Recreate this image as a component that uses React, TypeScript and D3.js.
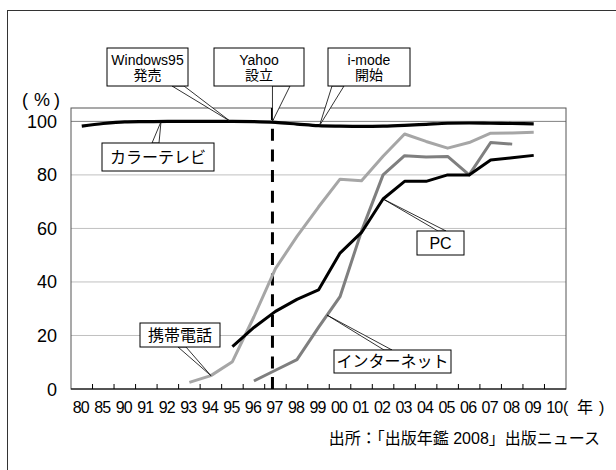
import React from "react";
import * as d3 from "d3";

// years on the category axis
const years = ["80","85","90","91","92","93","94","95","96","97","98","99","00","01","02","03","04","05","06","07","08","09","10"];
const yTicks = [0, 20, 40, 60, 80, 100];

// 普及率 (%), null = no data
const colorTv = [98.2,99.2,99.8,99.9,100,100,100,100,99.9,99.6,99.0,98.4,98.2,98.1,98.2,98.5,98.9,99.3,99.4,99.3,99.2,99.1,null];
const mobile = [null,null,null,null,null,2.5,5,10.2,27,45,57,68,78.4,77.8,87,95.3,92.5,90,92.1,95.6,95.7,95.9,null];
const internet = [null,null,null,null,null,null,null,null,3,7,11,23,34.5,59,80,87.2,86.7,86.9,80,92.1,91.5,null,null];
const pc = [null,null,null,null,null,null,null,15.8,23,29,33.5,37,50.8,58.5,71,77.6,77.6,80,80,85.6,86.4,87.3,null];

const FONT = "'Liberation Sans', Arial, 'Noto Sans CJK JP', sans-serif";

const W = 616, H = 470;
const plot = { left: 71, right: 566, top: 108, bottom: 389 };

const x = d3.scaleBand<string>().domain(years).range([plot.left, plot.right]).padding(0);
const y = d3.scaleLinear().domain([0, 105]).range([plot.bottom, plot.top]);
const cx = (yr: string) => (x(yr) ?? 0) + x.bandwidth() / 2;

function linePath(vals: (number | null)[], smooth = false) {
  const gen = d3.line<number | null>()
    .defined(v => v != null)
    .x((_, i) => cx(years[i]))
    .y(v => y(v as number))
    .curve(smooth ? d3.curveMonotoneX : d3.curveLinear);
  return gen(vals) || "";
}

type CalloutProps = {
  box: [number, number, number, number];
  base: [number, number];
  side: "top" | "bottom";
  tip: [number, number];
  lines: string[];
  fontSize?: number;
};

function Callout({ box, base, side, tip, lines, fontSize = 15 }: CalloutProps) {
  const [bx, by, bw, bh] = box;
  const baseY = side === "top" ? by : by + bh;
  const lh = fontSize + 1;
  const startY = by + bh / 2 - ((lines.length - 1) * lh) / 2 + fontSize * 0.36;
  return (
    <g>
      <polygon
        points={`${base[0]},${baseY} ${tip[0]},${tip[1]} ${base[1]},${baseY}`}
        fill="#fff" stroke="#000" strokeWidth={0.8} />
      <rect x={bx} y={by} width={bw} height={bh} fill="#fff" stroke="#000" strokeWidth={1} />
      {lines.map((t, i) => (
        <text key={i} x={bx + bw / 2} y={startY + i * lh} textAnchor="middle"
          fontSize={fontSize} fontFamily={FONT} fill="#000">{t}</text>
      ))}
    </g>
  );
}

export default function App() {
  const dashX = cx("97") - 3;
  const inetTipX = cx("99") + x.bandwidth() * 0.4;
  const inetTipY = y(23 + (34.5 - 23) * 0.4);

  return (
    <div style={{ position: "fixed", left: 0, top: 0 }}>
      <svg width={W} height={H} style={{ display: "block", background: "#fff" }}>
        {/* outer frame */}
        <rect x={7.5} y={10.5} width={700} height={600} fill="none" stroke="#333" strokeWidth={1} />

        {/* grid */}
        {yTicks.filter(t => t > 0).map(t => (
          <line key={t} x1={plot.left} x2={plot.right} y1={y(t)} y2={y(t)}
            stroke={t === 100 ? "#808080" : "#c0c0c0"} strokeWidth={1} />
        ))}
        <rect x={plot.left} y={plot.top} width={plot.right - plot.left} height={plot.bottom - plot.top}
          fill="none" stroke="#555" strokeWidth={1} />

        {/* x axis */}
        <line x1={plot.left} x2={plot.right} y1={plot.bottom} y2={plot.bottom} stroke="#000" strokeWidth={1.2} />
        {years.slice(1).map(yr => (
          <line key={yr} x1={x(yr)} x2={x(yr)} y1={plot.bottom} y2={plot.bottom - 5} stroke="#000" strokeWidth={1} />
        ))}
        {years.map(yr => (
          <text key={yr} x={cx(yr) - 1} y={413} textAnchor="middle" fontSize={16}
            letterSpacing={-0.8} fontFamily={FONT}>{yr}</text>
        ))}
        <text x={563} y={413} fontSize={16} fontFamily={FONT}>(</text>
        <text x={577} y={413} fontSize={16} fontFamily={FONT}>年</text>
        <text x={599} y={413} fontSize={16} fontFamily={FONT}>)</text>

        {/* y axis labels */}
        {yTicks.map(t => (
          <text key={t} x={57} y={y(t) + 6.5} textAnchor="end" fontSize={18} fontFamily={FONT}>{t}</text>
        ))}
        <text x={22} y={106} fontSize={18} fontFamily={FONT}>(</text>
        <text x={34} y={106} fontSize={18} fontFamily={FONT}>%</text>
        <text x={54} y={106} fontSize={18} fontFamily={FONT}>)</text>

        {/* Yahoo marker */}
        <line x1={dashX} x2={dashX} y1={plot.top} y2={plot.bottom} stroke="#000" strokeWidth={3}
          strokeDasharray="12 8.7" />

        {/* series */}
        <path d={linePath(mobile)} fill="none" stroke="#a6a6a6" strokeWidth={3} strokeLinejoin="round" />
        <path d={linePath(internet)} fill="none" stroke="#7f7f7f" strokeWidth={3} strokeLinejoin="round" />
        <path d={linePath(pc)} fill="none" stroke="#000" strokeWidth={3} strokeLinejoin="round" />
        <path d={linePath(colorTv, true)} fill="none" stroke="#000" strokeWidth={3.2} strokeLinejoin="round" />

        {/* callouts */}
        <Callout box={[107, 48, 81, 38]} side="bottom" base={[172, 184]} tip={[cx("95") - 2, y(100)]}
          lines={["Windows95", "発売"]} fontSize={14} />
        <Callout box={[214, 48, 90, 38]} side="bottom" base={[dashX, 290]} tip={[dashX, y(100)]}
          lines={["Yahoo", "設立"]} fontSize={14} />
        <Callout box={[328, 48, 82, 38]} side="bottom" base={[332, 344]} tip={[cx("99") + 1, y(98.4)]}
          lines={["i-mode", "開始"]} fontSize={14} />
        <Callout box={[102, 143, 112, 28]} side="top" base={[152, 159]} tip={[161, y(99.9)]}
          lines={["カラーテレビ"]} fontSize={16} />
        <Callout box={[140, 323, 80, 24]} side="bottom" base={[178, 186]} tip={[cx("94"), y(5)]}
          lines={["携帯電話"]} fontSize={16} />
        <Callout box={[417, 231, 47, 24]} side="top" base={[438, 446]} tip={[cx("02"), y(71)]}
          lines={["PC"]} fontSize={16} />
        <Callout box={[334, 350, 117, 23]} side="top" base={[384, 392]} tip={[inetTipX, inetTipY]}
          lines={["インターネット"]} fontSize={16} />

        {/* source */}
        <text x={600} y={444} textAnchor="end" fontSize={16} fontFamily={FONT}>
          出所：「出版年鑑 2008」出版ニュース
        </text>
      </svg>
    </div>
  );
}
